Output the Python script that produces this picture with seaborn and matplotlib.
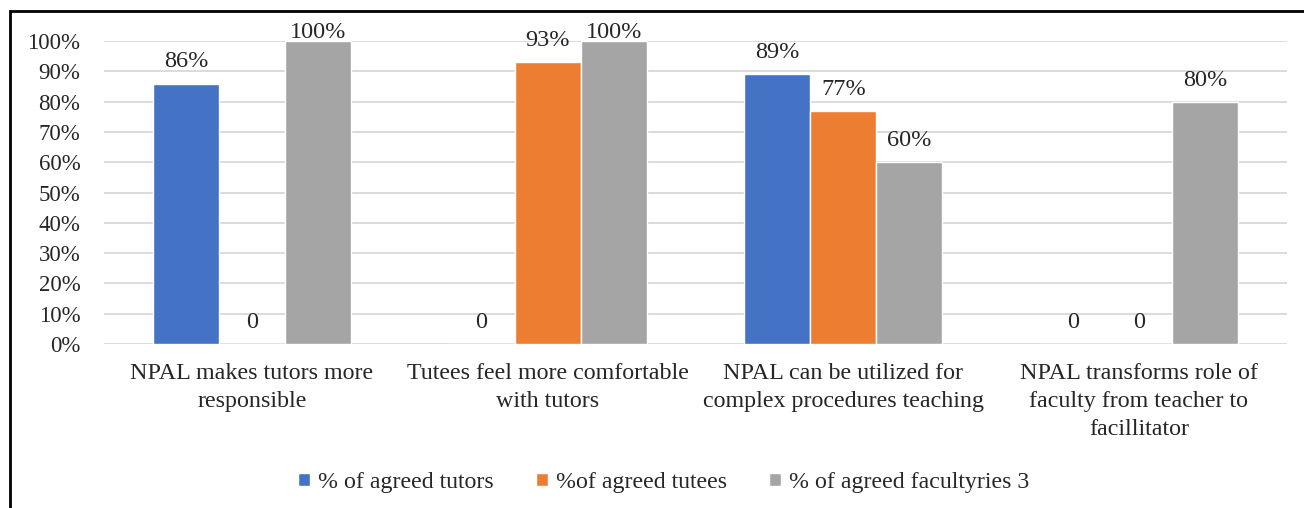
import pandas as pd
import seaborn as sns
import matplotlib.pyplot as plt
from matplotlib.patches import Rectangle

# Data
categories = [
    "NPAL makes tutors more\nresponsible",
    "Tutees feel more comfortable\nwith tutors",
    "NPAL can be utilized for\ncomplex procedures teaching",
    "NPAL transforms role of\nfaculty from teacher to\nfacillitator",
]
series = ["% of agreed tutors", "%of agreed tutees", "% of agreed facultyries 3"]
tutors = [86, 0, 89, 0]
tutees = [0, 93, 77, 0]
faculty = [100, 100, 60, 80]
colors = ["#4472C4", "#ED7D31", "#A5A5A5"]

df = pd.DataFrame({
    "category": categories * 3,
    "series": [series[0]] * 4 + [series[1]] * 4 + [series[2]] * 4,
    "value": tutors + tutees + faculty,
})

sns.set_theme(style="white")
plt.rcParams["font.family"] = ["Liberation Serif", "DejaVu Serif"]

fig = plt.figure(figsize=(13.04, 5.08), dpi=100)
ax = fig.add_axes([0.0798, 0.323, 0.907, 0.596])

sns.barplot(data=df, x="category", y="value", hue="series", palette=colors,
            width=0.67, saturation=1, ax=ax, zorder=2)

ax.set_ylim(0, 100)
ax.set_xlim(-0.5, 3.5)
ax.set_yticks(range(0, 101, 10))
ax.set_yticklabels([f"{t}%" for t in range(0, 101, 10)], fontsize=16.5)
ax.tick_params(axis="x", labelsize=17.3, pad=14, length=0)
ax.tick_params(axis="y", length=0, pad=17)
for lab in ax.get_xticklabels():
    lab.set_linespacing(1.42)
ax.yaxis.grid(True, color="#D9D9D9", linewidth=1.3, zorder=0)
ax.set_axisbelow(True)
for s in ax.spines.values():
    s.set_visible(False)
ax.set_xlabel("")
ax.set_ylabel("")

# value labels
for cont in ax.containers:
    for bar in cont:
        v = bar.get_height()
        x = bar.get_x() + bar.get_width() / 2
        txt = f"{v:.0f}%" if v > 0 else "0"
        y = min(v + 5.3, 101)
        ax.text(x, y, txt, ha="center", va="baseline", fontsize=17.5, clip_on=False)

# legend
handles, labels = ax.get_legend_handles_labels()
ax.legend(handles, labels, loc="center", bbox_to_anchor=(0.509, 0.05),
          bbox_transform=fig.transFigure, ncol=3, frameon=False, fontsize=17.2,
          handlelength=0.5, handleheight=0.5, handletextpad=0.35, columnspacing=1.75)

# outer frame (left/top edges visible)
fig.patches.append(Rectangle((10 / 1304, -0.1), 1.2, 1 - 11 / 508 + 0.1,
                             transform=fig.transFigure, fill=False,
                             edgecolor="black", linewidth=2))

fig.savefig("out.png", dpi=100)
